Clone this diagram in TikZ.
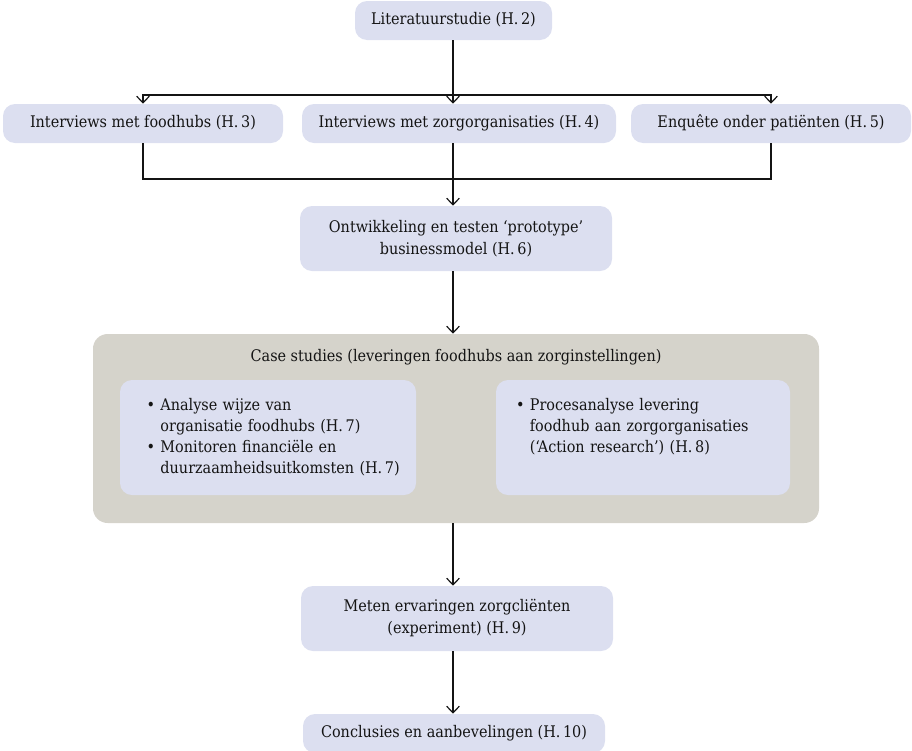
\documentclass[tikz,border=0pt]{standalone}
\usepackage{xcolor}
\usepackage{fontspec}
\setmainfont{DejaVu Serif Condensed}
\usetikzlibrary{arrows.meta,positioning}

\definecolor{boxblue}{RGB}{220,223,240}
\definecolor{casegray}{RGB}{213,211,203}
\definecolor{inkgray}{RGB}{20,20,20}

\newcommand{\hnr}[1]{(H.\,#1)}

\begin{document}
\begin{tikzpicture}[
  x=0.75pt,y=-0.75pt,
  font=\fontsize{12}{16.5}\selectfont,
  stage/.style={rectangle,rounded corners=9pt,fill=boxblue,align=center,
    inner sep=2pt,minimum height=29.25pt,text=inkgray},
  onestage/.style={stage,text height=9pt,text depth=3pt},
  tallstage/.style={stage,minimum height=48.75pt},
  casebox/.style={rectangle,rounded corners=11pt,fill=casegray,
    minimum width=544.5pt,minimum height=141.75pt},
  subbox/.style={rectangle,rounded corners=9pt,fill=boxblue,align=left,
    minimum height=86.25pt,inner ysep=0pt,text=inkgray,
    font=\fontsize{12}{15.75}\selectfont},
  link/.style={line width=0.9pt,inkgray},
  flow/.style={link,-{Straight Barb[length=5pt,width=9.5pt]}}
]
  \useasboundingbox (0,0) rectangle (912,750);
  \clip (0,0) rectangle (912,750);

  % hoofdstukken
  \node[onestage,minimum width=147.75pt] (lit) at (453.5,20.5) {Literatuurstudie \hnr{2}};
  \node[onestage,minimum width=210pt] (fh) at (143,123.5) {Interviews met foodhubs \hnr{3}};
  \node[onestage,minimum width=235.5pt] (zo) at (459,123.5) {Interviews met zorgorganisaties \hnr{4}};
  \node[onestage,minimum width=210pt] (enq) at (771,123.5) {Enquête onder patiënten \hnr{5}};
  \node[tallstage,minimum width=234pt] (proto) at (456,238.5)
    {Ontwikkeling en testen ‘prototype’\\businessmodel \hnr{6}};

  \node[casebox] (case) at (456,428.5) {};
  \node[text=inkgray] (casetitle) at (456,357) {Case studies (leveringen foodhubs aan zorginstellingen)};
  \node[subbox,inner xsep=20pt,text width=182pt] (orgbox) at (268,437.5) {%
    \begin{tabular}{@{}l@{\hspace{4pt}}l@{}}
      • & Analyse wijze van\\
        & organisatie foodhubs \hnr{7}\\
      • & Monitoren financiële en\\
        & duurzaamheidsuitkomsten \hnr{7}
    \end{tabular}};
  \node[subbox,inner xsep=15pt,text width=190.5pt] (actbox) at (643,437.5) {%
    \begin{tabular}{@{}l@{\hspace{4pt}}l@{}}
      • & Procesanalyse levering\\
        & foodhub aan zorgorganisaties\\
        & (‘Action research’) \hnr{8}\\
        & \mbox{}
    \end{tabular}};

  \node[tallstage,minimum width=234pt] (meten) at (457,618.5)
    {Meten ervaringen zorgcliënten\\(experiment) \hnr{9}};
  \node[onestage,minimum width=226.5pt] (concl) at (454,733.5) {Conclusies en aanbevelingen \hnr{10}};

  % verbindingen
  \coordinate (split) at (453,95);
  \coordinate (join) at (453,179);
  \draw[flow] (lit.south -| split) -- (zo.north -| split);
  \draw[flow] (split) -| (fh.north);
  \draw[flow] (split) -| (enq.north);
  \draw[link] (fh.south) |- (join) -| (enq.south);
  \draw[flow] (zo.south -| split) -- (proto.north -| split);
  \draw[flow] (proto.south -| split) -- (case.north -| split);
  \draw[flow] (case.south -| split) -- (meten.north -| split);
  \draw[flow] (meten.south -| split) -- (concl.north -| split);
\end{tikzpicture}
\end{document}
